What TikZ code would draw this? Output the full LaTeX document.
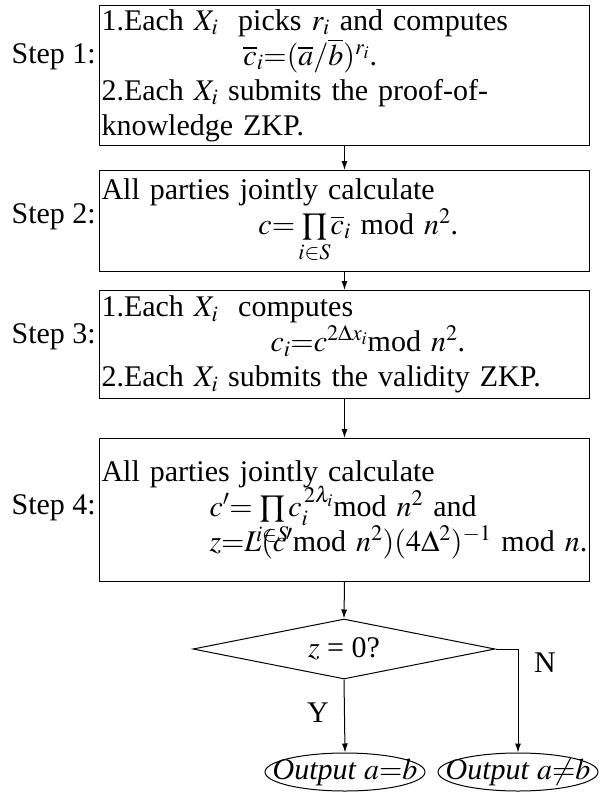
\documentclass[tikz,border=0pt]{standalone}
\usepackage{mathptmx}
\usepackage[no-math]{fontspec}
\setmainfont{Liberation Serif}
\usetikzlibrary{shapes.geometric,arrows.meta}
\tikzset{
  stepbox/.style={draw,line width=1pt,rectangle,anchor=north west,minimum width=490pt,text width=486pt,inner sep=2pt,align=left,
    execute at begin node={\lineskiplimit=-40pt\relax}},
  steplabel/.style={anchor=east,inner sep=0pt},
  decision/.style={draw,line width=1pt,diamond,aspect=5,minimum width=302pt,minimum height=60pt,inner sep=0pt},
  outbox/.style={draw,line width=1pt,ellipse,inner xsep=-20pt,inner ysep=-4pt,minimum width=160pt,minimum height=38pt},
  flow/.style={line width=1pt,-{Latex[length=9pt,width=6pt]}}
}
\begin{document}
\begin{tikzpicture}[x=1pt,y=-1pt,font=\fontsize{30}{35}\selectfont]
        \useasboundingbox (0,0) rectangle (602,793);
        % the four step boxes
        \node[stepbox,minimum height=140pt] (s1) at (99,5) {1.Each $X_i$\ \ picks $r_i$ and computes\\
            \hspace*{142pt}$\overline{c}_i{=}(\overline{a}/\overline{b})^{r_i}$.\\
            2.Each $X_i$ submits the proof-of-\\
            knowledge ZKP.};
        \node[stepbox,minimum height=101pt] (s2) at (99,170) {All parties jointly calculate\\
            \hspace*{157pt}$c{=}\prod\limits_{i\in S}\!\overline{c}_i$ mod $n^2$.};
        \node[stepbox,minimum height=108pt] (s3) at (99,290) {1.Each $X_i$\ \ computes\\
            \hspace*{169pt}$c_i{=}c^{2\Delta x_i}$mod $n^2$.\\
            2.Each $X_i$ submits the validity ZKP.};
        \node[stepbox,minimum height=143pt] (s4) at (99,438) {All parties jointly calculate\\
            \hspace*{108pt}\mbox{$c'{=}\prod\limits_{i\in S}\!c_i^{\,2\lambda_i}$mod $n^2$ and}\\
            \hspace*{108pt}\mbox{$z{=}L(c'$mod $n^2)(4\Delta^2)^{-1}$ mod $n$.}};
        % the step names
        \node[steplabel] (l1) at (96,57) {Step 1:};
        \node[steplabel] (l2) at (96,217) {Step 2:};
        \node[steplabel] (l3) at (96,337) {Step 3:};
        \node[steplabel] (l4) at (96,508) {Step 4:};
        % the test and the two outputs
        \node[decision] (dec) at (344,649) {$z$ = 0?};
        \node[outbox] (o1) at (345,772) {\textit{Output} $a{=}b$};
        \node[outbox] (o2) at (518,772) {\textit{Output} $a{\neq}b$};
        \node (ylab) at (318,713) {Y};
        \node (nlab) at (545,663) {N};
        % the arrows
        \draw[flow] (s1.south) -- (s2.north);
        \draw[flow] (s2.south) -- (s3.north);
        \draw[flow] (s3.south) -- (s4.north);
        \draw[flow] (s4.south) -- (dec.north);
        \draw[flow] (dec.south) -- (o1.north);
        \draw[flow] (dec.east) -| (o2.north);
    \end{tikzpicture}
\end{document}
